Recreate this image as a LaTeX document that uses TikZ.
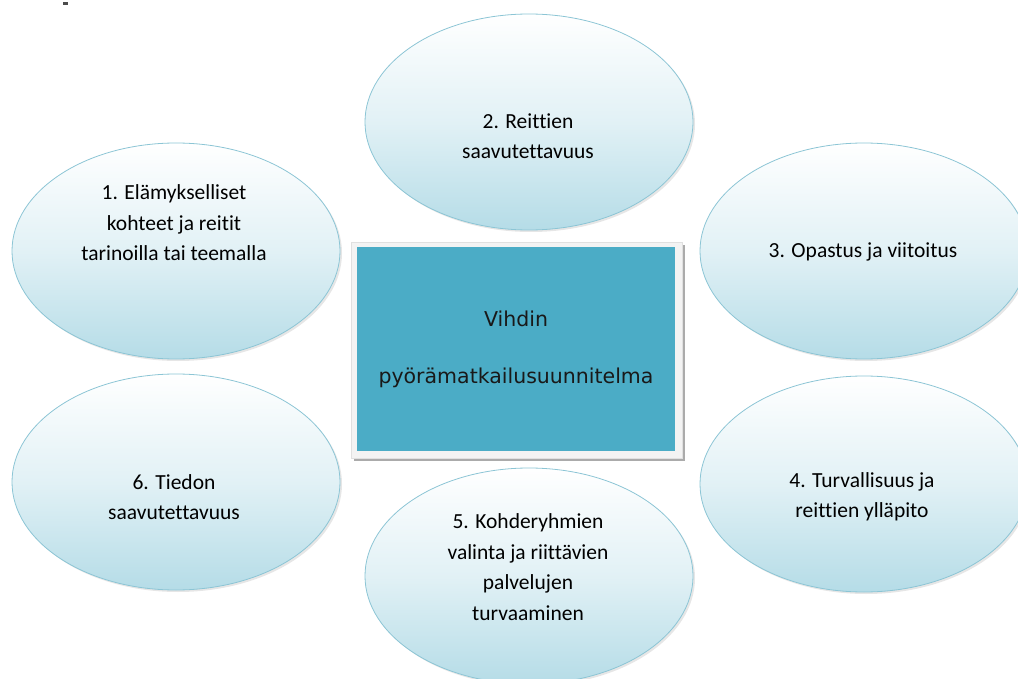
\documentclass[tikz,border=0pt]{standalone}
\usepackage{fontspec}
\setmainfont{Carlito}[Ligatures={NoCommon}]
\newfontfamily\boxfont{DejaVu Sans}
\usetikzlibrary{shapes.geometric,shadows}
\definecolor{bubbleblue}{HTML}{B5DCE7}
\definecolor{bubbleline}{HTML}{8CC5D5}
\definecolor{boxblue}{HTML}{4BACC6}
\definecolor{framegray}{HTML}{F3F3F3}
\tikzstyle{bubble} = [ellipse, draw=bubbleline, line width=0.8pt,
    top color=white, bottom color=bubbleblue, middle color=bubbleblue!40!white,
    minimum width=328pt, minimum height=216pt, inner sep=0pt,
    drop shadow={opacity=0.2, shadow xshift=2pt, shadow yshift=-2pt}]
\tikzstyle{bubbletext} = [align=center, text=black, inner sep=0pt,
    font=\fontsize{21.5}{30.5}\selectfont]
\tikzstyle{frame} = [rectangle, fill=framegray, draw=black!12, line width=0.4pt,
    minimum width=331pt, minimum height=216pt, inner sep=0pt,
    drop shadow={opacity=0.55, fill=black!60, shadow xshift=3pt, shadow yshift=-3pt}]
\tikzstyle{core} = [rectangle, fill=boxblue, minimum width=318pt, minimum height=204pt,
    inner sep=0pt]

\begin{document}
\begin{tikzpicture}[x=1pt, y=1pt]
\useasboundingbox (0,0) rectangle (1018,-679);
\clip (0,0) rectangle (1018,-679);
% stray mark top left
\fill[black!70] (63,-2) rectangle (68,-5);
% bubbles
\node [bubble] (e1) at (176,-251) {};
\node [bubble] (e2) at (529,-122) {};
\node [bubble] (e3) at (864,-251) {};
\node [bubble] (e4) at (864,-484) {};
\node [bubble] (e5) at (529,-576) {};
\node [bubble] (e6) at (176,-482) {};
\node [bubbletext] (t1) at ([xshift=-2pt, yshift=28pt]e1.center)
    {1. Elämykselliset\\kohteet ja reitit\\tarinoilla tai teemalla};
\node [bubbletext] (t2) at ([xshift=-1pt, yshift=-14pt]e2.center)
    {2. Reittien\\saavutettavuus};
\node [bubbletext] (t3) at ([xshift=-1pt, yshift=-1pt]e3.center)
    {3. Opastus ja viitoitus};
\node [bubbletext] (t4) at ([xshift=-2pt, yshift=-13pt]e4.center)
    {4. Turvallisuus ja\\reittien ylläpito};
\node [bubbletext] (t5) at ([xshift=-1pt, yshift=9pt]e5.center)
    {5. Kohderyhmien\\valinta ja riittävien\\palvelujen\\turvaaminen};
\node [bubbletext] (t6) at ([xshift=-2pt, yshift=-15pt]e6.center)
    {6. Tiedon\\saavutettavuus};
% centre box
\node [frame] (box) at (516.5,-350) {};
\node [core] (inner) at (516,-349) {};
\node [align=center, text=black!90, font=\boxfont\fontsize{20.5}{57}\selectfont]
    (title) at (inner.center) {Vihdin\\pyörämatkailusuunnitelma};
\end{tikzpicture}
\end{document}
